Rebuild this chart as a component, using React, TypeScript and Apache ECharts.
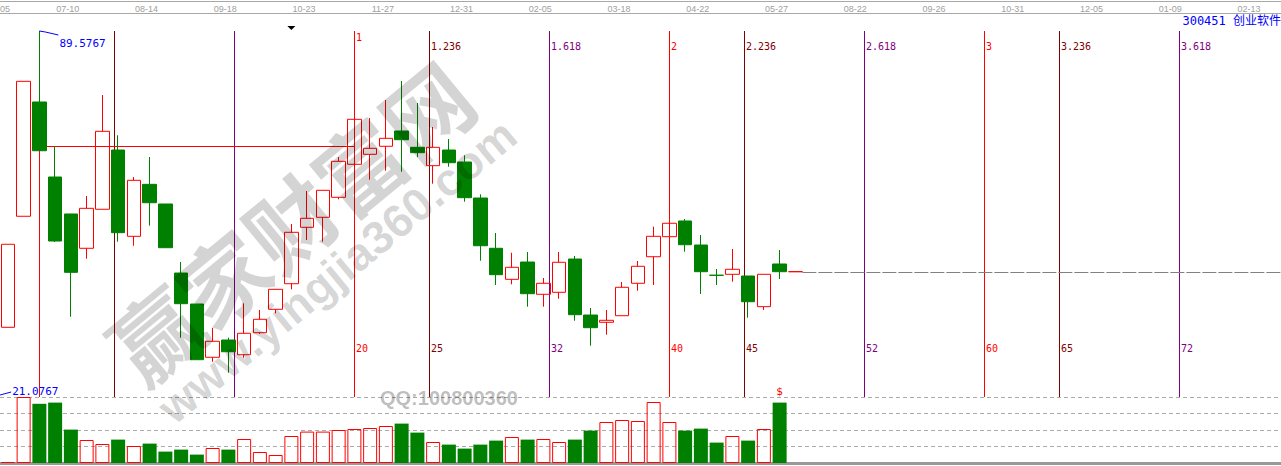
import { useEffect, useRef } from 'react';
import * as echarts from 'echarts';

// Weekly candles of 300451 创业软件, oldest first: open / close / low / high
const opens = [34.12, 54.9, 76.29, 62.25, 55.33, 48.91, 56.21, 67.3, 51.15, 60.88, 57.2, 44.28, 38.48, 28.51, 31.74, 28.99, 33.11, 37.49, 42.28, 52.84, 54.71, 58.45, 64.63, 66.5, 68.0, 70.86, 67.81, 64.37, 67.3, 65.06, 58.32, 48.91, 43.1, 46.34, 40.3, 40.67, 46.9, 36.42, 35.06, 36.29, 42.36, 47.33, 51.08, 54.02, 49.52, 43.88, 44.04, 43.72, 37.98, 45.97, 44.53];
const closes = [49.66, 80.16, 67.17, 50.27, 44.41, 56.39, 70.8, 51.83, 61.63, 57.44, 49.02, 38.54, 28.06, 31.5, 29.55, 33.0, 35.62, 41.23, 51.9, 54.52, 59.76, 65.19, 73.05, 67.62, 69.49, 69.23, 66.8, 67.81, 64.93, 58.38, 49.39, 43.97, 45.35, 40.41, 42.36, 46.29, 36.48, 34.05, 35.43, 41.61, 45.54, 51.15, 53.59, 49.58, 44.53, 43.84, 44.98, 38.91, 44.04, 44.53, 44.53];
const lows = [34.12, 54.9, 67.17, 50.09, 36.1, 46.96, 56.21, 50.14, 49.39, 53.14, 49.02, 32.17, 28.06, 27.68, 25.62, 28.43, 32.87, 36.74, 41.23, 50.46, 50.14, 58.08, 64.63, 61.75, 63.43, 63.24, 65.99, 61.0, 64.18, 57.63, 46.59, 42.04, 42.17, 37.98, 37.98, 39.47, 35.36, 30.68, 32.74, 36.29, 40.97, 42.04, 51.08, 48.27, 40.35, 42.04, 42.66, 35.92, 37.36, 43.16, 44.53];
const highs = [49.66, 80.16, 89.5767, 68.05, 55.33, 58.7, 77.6, 70.06, 62.25, 65.99, 57.2, 46.34, 38.48, 33.99, 32.17, 38.61, 37.36, 41.23, 53.45, 59.63, 59.76, 65.99, 73.05, 73.29, 76.66, 80.22, 76.1, 71.61, 69.36, 66.31, 59.01, 51.77, 48.08, 48.21, 43.35, 48.21, 47.47, 37.73, 37.36, 42.6, 46.53, 52.95, 53.59, 54.39, 51.4, 45.03, 48.78, 43.72, 44.04, 48.59, 44.53];
// Weekly volume, 万手
const volumes = [0.5, 33, 29.6, 30.2, 16.7, 11.5, 9.5, 11.7, 8.5, 9.7, 5.7, 6.7, 4.2, 7.5, 6.7, 12, 5.5, 4, 13.5, 15.7, 15.7, 16.5, 17, 17.5, 18.5, 19.7, 15.2, 10.5, 9.2, 7.2, 9.2, 11.2, 13, 11.7, 12, 10.5, 11.7, 16.2, 20.5, 21.5, 21, 30.5, 20.5, 16.2, 17.2, 10.2, 13.5, 11.2, 17, 30.2];
const volumeMax = 33;
const volumeStep = 8.25;

// Low of the week just before the first visible candle
const priorLow = 21.0767;
// Horizontal level drawn from the fib anchor week
const levelPrice = 68.05;
const levelFromBar = 2;
const levelToBar = 22;

// Fibonacci time zones anchored on the top week
const fibStartBar = 2;
const fibUnitBars = 20;
const fibRatios = [0, 0.236, 0.618, 1, 1.236, 1.618, 2, 2.236, 2.618, 3, 3.236, 3.618];

// Date ticks along the top strip (slot index -> label)
const slotCount = 82;
const dateTickSlots = [0, 4, 9, 14, 19, 24, 29, 34, 39, 44, 49, 54, 59, 64, 69, 74, 79];
const dateTicks = ['05', '07-10', '08-14', '09-18', '10-23', '11-27', '12-31', '02-05', '03-18', '04-22', '05-27', '08-22', '09-26', '10-31', '12-05', '01-09', '02-13'];

const signalBar = 18;
const volumeMarkBar = 49;

const UP = '#ff0000';
const DOWN = '#008000';
const DARK_RED = '#800000';
const PURPLE = '#800080';
const MONO = '"DejaVu Sans Mono", "Liberation Mono", monospace';
const BAR_W = 14;
const SLOT_W = 15.75;

const fibColor = (r: number) => {
  if (Number.isInteger(r)) return UP;
  return Math.round((r % 1) * 1000) === 236 ? DARK_RED : PURPLE;
};

const barX = (api: any, bar: number) => {
  const bw = api.size([1, 0])[0];
  return api.coord([0, priorLow])[0] + bar * bw;
};

export default function App() {
  const ref = useRef<HTMLDivElement>(null);

  useEffect(() => {
    document.body.style.margin = '0';
    const chart = echarts.init(ref.current!, null, { renderer: 'svg' });

    const maxHigh = Math.max(...highs);
    const maxBar = highs.indexOf(maxHigh);
    const lastClose = closes[closes.length - 1];
    const lastBar = closes.length - 1;

    const slots = Array.from({ length: slotCount }, (_, i) => String(i));
    const tickText: Record<number, string> = {};
    dateTickSlots.forEach((s, i) => (tickText[s] = dateTicks[i]));

    const candleData = opens.map((o, i) => [o, closes[i], lows[i], highs[i]]);
    const volumeData = volumes.map((v, i) => {
      const up = closes[i] >= opens[i];
      return {
        value: v,
        itemStyle: up
          ? { color: 'transparent', borderColor: UP, borderWidth: 1 }
          : { color: DOWN, borderColor: DOWN, borderWidth: 0 },
      };
    });

    const extremes = [
      { bar: maxBar, value: maxHigh, dir: 1 },
      { bar: -1, value: priorLow, dir: -1 },
    ];

    const gridWidth = slotCount * SLOT_W;

    const option: any = {
      animation: false,
      backgroundColor: '#ffffff',
      title: {
        text: '300451 创业软件',
        right: 0,
        top: 15,
        padding: 0,
        textStyle: { color: '#0000ff', fontSize: 12, fontWeight: 'normal', fontFamily: MONO + ', "Noto Sans CJK SC"' },
      },
      grid: [
        { left: 0, top: 31, width: gridWidth, height: 366, outerBoundsMode: 'none' },
        { left: 0, top: 397, width: gridWidth, height: 66, outerBoundsMode: 'none' },
        { left: -3, top: 1, width: gridWidth, height: 12, outerBoundsMode: 'none' },
      ],
      xAxis: [
        { type: 'category', gridIndex: 0, data: slots, show: false },
        {
          type: 'category', gridIndex: 1, data: slots,
          axisLine: { show: true, lineStyle: { color: '#999999', width: 3 } },
          axisTick: { show: false }, axisLabel: { show: false },
        },
        {
          type: 'category', gridIndex: 2, data: slots, position: 'bottom',
          axisLine: { show: true, lineStyle: { color: '#a8a8a8', width: 1 } },
          axisTick: { show: false },
          axisLabel: {
            inside: true, interval: 0, margin: 0, color: '#a0a0a0', fontSize: 9,
            fontFamily: '"Liberation Sans Narrow", "Liberation Sans", sans-serif',
            formatter: (_v: string, idx: number) => tickText[idx] ?? '',
          },
        },
        {
          type: 'category', gridIndex: 2, data: slots, position: 'top',
          axisLine: { show: true, lineStyle: { color: '#a8a8a8', width: 1 } },
          axisTick: { show: false }, axisLabel: { show: false },
        },
      ],
      yAxis: [
        { type: 'value', gridIndex: 0, min: priorLow, max: maxHigh, show: false },
        {
          type: 'value', gridIndex: 1, min: 0, max: volumeMax, interval: volumeStep,
          axisLine: { show: false }, axisTick: { show: false }, axisLabel: { show: false },
          splitLine: { show: true, lineStyle: { color: '#aaaaaa', width: 1, type: [4, 3] } },
        },
        { type: 'value', gridIndex: 2, show: false },
      ],
      series: [
        {
          name: 'fib',
          type: 'custom',
          xAxisIndex: 0, yAxisIndex: 0, z: 1, silent: true,
          data: fibRatios.map((r, i) => [i, r]),
          renderItem: (params: any, api: any) => {
            const r = fibRatios[params.dataIndex];
            const cs = params.coordSys;
            const x = Math.round(barX(api, fibStartBar + r * fibUnitBars)) + 0.5;
            const color = fibColor(r);
            const children: any[] = [
              { type: 'line', shape: { x1: x, y1: cs.y, x2: x, y2: cs.y + cs.height }, style: { stroke: color, lineWidth: 1 } },
            ];
            if (r >= 1) {
              children.push({
                type: 'text', x: x + 1.5, y: cs.y + (r === 1 ? 6 : 15),
                style: { text: String(r), fill: color, font: '10px ' + MONO, align: 'left', verticalAlign: 'middle' },
              });
              children.push({
                type: 'text', x: x + 1.5, y: cs.y + cs.height - 49,
                style: { text: String(Math.round(r * fibUnitBars)), fill: color, font: '10px ' + MONO, align: 'left', verticalAlign: 'middle' },
              });
            }
            return { type: 'group', children };
          },
        },
        {
          name: 'levels',
          type: 'custom',
          xAxisIndex: 0, yAxisIndex: 0, z: 1, silent: true,
          data: [[levelFromBar, levelPrice], [lastBar, lastClose]],
          renderItem: (params: any, api: any) => {
            const cs = params.coordSys;
            if (params.dataIndex === 0) {
              const y = Math.round(api.coord([levelFromBar, levelPrice])[1]) + 0.5;
              return {
                type: 'line',
                shape: { x1: barX(api, levelFromBar), y1: y, x2: barX(api, levelToBar), y2: y },
                style: { stroke: UP, lineWidth: 1 },
              };
            }
            const y = Math.round(api.coord([lastBar, lastClose])[1]) + 0.5;
            return {
              type: 'line',
              shape: { x1: barX(api, lastBar) + BAR_W / 2, y1: y, x2: cs.x + cs.width, y2: y },
              style: { stroke: '#808080', lineWidth: 1, lineDash: [14, 2] },
            };
          },
        },
        {
          name: '300451',
          type: 'candlestick',
          xAxisIndex: 0, yAxisIndex: 0, z: 2,
          barWidth: BAR_W,
          data: candleData,
          itemStyle: {
            color: 'transparent', color0: DOWN,
            borderColor: UP, borderColor0: DOWN, borderColorDoji: UP,
            borderWidth: 1,
          },
          markPoint: {
            silent: true,
            symbol: 'triangle', symbolRotate: 180, symbolSize: [8, 4], symbolOffset: [0, -3],
            itemStyle: { color: '#000000' },
            label: { show: false },
            data: [{ coord: [signalBar, maxHigh] }],
          },
        },
        {
          name: 'volume',
          type: 'bar',
          xAxisIndex: 1, yAxisIndex: 1,
          barWidth: BAR_W,
          data: volumeData,
          markPoint: {
            silent: true,
            symbol: 'circle', symbolSize: 1,
            itemStyle: { color: 'transparent' },
            label: { show: true, position: 'top', distance: 0, formatter: '$', color: UP, fontSize: 11, fontFamily: MONO },
            data: [{ coord: [volumeMarkBar, volumeMax] }],
          },
        },
        {
          name: 'extremes',
          type: 'custom',
          xAxisIndex: 0, yAxisIndex: 0, z: 3, silent: true,
          data: extremes.map((e) => [0, e.value]),
          renderItem: (params: any, api: any) => {
            const e = extremes[params.dataIndex];
            const x = barX(api, e.bar);
            const y = api.coord([0, e.value])[1];
            const pts = e.dir > 0
              ? [[x, y], [x + 6, y + 1], [x + 19, y + 4]]
              : [[x, y], [x + 8, y - 2], [x + 19, y - 5]];
            return {
              type: 'group',
              children: [
                { type: 'polyline', shape: { points: pts }, style: { stroke: '#0000ff', lineWidth: 1, fill: null } },
                {
                  type: 'text', x: x + 20, y: e.dir > 0 ? y + 12 : y - 6,
                  style: { text: e.value.toFixed(4), fill: '#0000ff', font: '11px ' + MONO, align: 'left', verticalAlign: 'middle' },
                },
              ],
            };
          },
        },
      ],
      graphic: [
        {
          type: 'text', x: 289, y: 220, rotation: 0.69, z: 100, silent: true,
          style: { text: '赢家财富网', font: 'bold 88px "Noto Sans CJK SC"', fill: 'rgba(0,0,0,0.17)', align: 'center', verticalAlign: 'middle' },
        },
        {
          type: 'text', x: 337, y: 271, rotation: 0.69, z: 100, silent: true,
          style: { text: 'www.yingjia360.com', font: 'bold 46px "Liberation Sans"', fill: 'rgba(0,0,0,0.17)', align: 'center', verticalAlign: 'middle' },
        },
        {
          type: 'text', x: 380, y: 398, z: 100, silent: true,
          style: { text: 'QQ:100800360', font: 'bold 20px "Liberation Sans"', fill: 'rgba(0,0,0,0.27)', align: 'left', verticalAlign: 'middle' },
        },
      ],
    };

    chart.setOption(option);
    return () => chart.dispose();
  }, []);

  return <div ref={ref} style={{ width: 1281, height: 466 }} />;
}
